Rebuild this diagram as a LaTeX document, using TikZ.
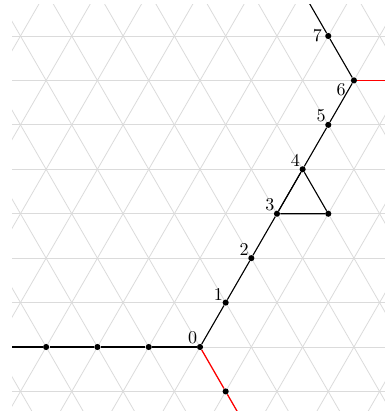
\documentclass[tikz,border=0pt]{standalone}
\begin{document}
\begin{tikzpicture}[x=1cm,y=1cm,
  gridline/.style={draw=black!14,line width=0.45pt},
  pathline/.style={draw=black,line width=0.6pt},
  redline/.style={draw=red,line width=0.7pt},
  dot/.style={circle,fill=black,inner sep=0pt,minimum size=3.4pt},
  lab/.style={font=\fontsize{10}{12}\selectfont,inner sep=1pt}]
\useasboundingbox (-3.899,-1.267) rectangle (3.587,6.764);
\begin{scope}
\clip (-3.665,-1.228) rectangle (3.7,6.667);
% grid
\foreach \k in {-2,...,8}
  \draw[gridline] (-4.5,{\k*0.8660254}) -- (4.5,{\k*0.8660254});
\foreach \n in {-12,...,12}{
  \draw[gridline] ({\n-1},{-2*0.8660254}) -- ({\n+4.5},{9*0.8660254});
  \draw[gridline] ({\n+1},{-2*0.8660254}) -- ({\n-4.5},{9*0.8660254});
}
% nodes
\node[dot,label={[lab,label distance=-1pt]120:0}] (n0) at (0,0) {};
\node[dot,label={[lab,label distance=-1.5pt]150:1}] (n1) at (0.5,0.8660254) {};
\node[dot,label={[lab,label distance=-1.5pt]140:2}] (n2) at (1,1.7320508) {};
\node[dot,label={[lab,label distance=-1.5pt]115:3}] (n3) at (1.5,2.5980762) {};
\node[dot,label={[lab,label distance=-1.5pt]130:4}] (n4) at (2,3.4641016) {};
\node[dot,label={[lab,label distance=-1.5pt]125:5}] (n5) at (2.5,4.3301270) {};
\node[dot,label={[lab,label distance=1.5pt]187:6}] (n6) at (3,5.1961524) {};
\node[dot,label={[lab,label distance=0.5pt]180:7}] (n7) at (2.5,6.0621778) {};
\node[dot] (t) at (2.5,2.5980762) {};
\node[dot] (m1) at (-1,0) {};
\node[dot] (m2) at (-2,0) {};
\node[dot] (m3) at (-3,0) {};
\node[dot] (r1) at (0.5,-0.8660254) {};
\coordinate (leftend) at (-4,0);
\coordinate (topend) at (2,6.9282032);
\coordinate (rightend) at (3.8,5.1961524);
\coordinate (bottomend) at (0.75,-1.2990381);
% connectors
\draw[pathline] (leftend) -- (m3) -- (m2) -- (m1) -- (n0);
\draw[pathline] (n0) -- (n1) -- (n2) -- (n3) -- (n4) -- (n5) -- (n6) -- (n7) -- (topend);
\draw[pathline] (n3) -- (n4) -- (t) -- (n3);
\draw[redline] (n6) -- (rightend);
\draw[redline] (n0) -- (r1) -- (bottomend);
\end{scope}
\end{tikzpicture}
\end{document}
